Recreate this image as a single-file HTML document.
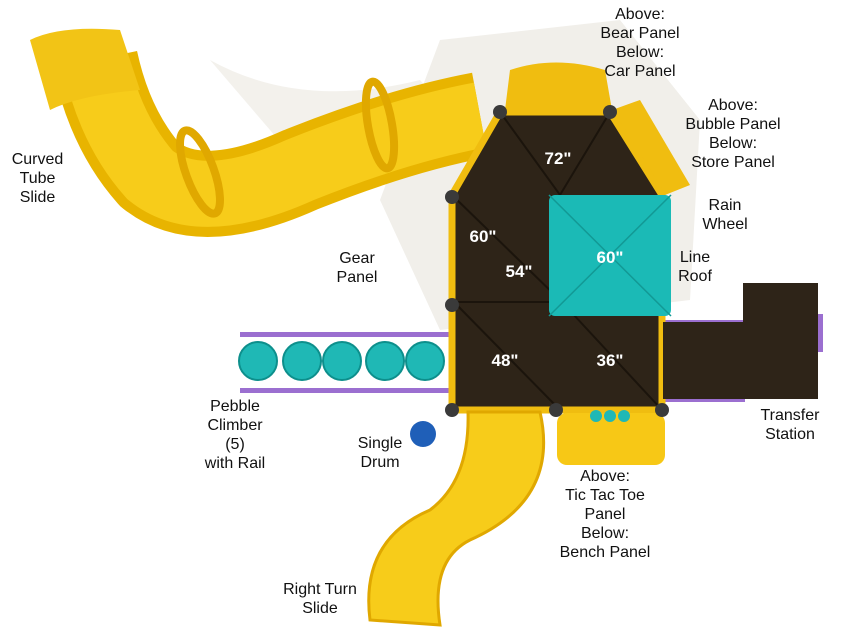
<!DOCTYPE html>
<html><head><style>
body{margin:0;background:#fff;}
.l{position:absolute;font-family:"Liberation Sans",sans-serif;font-size:16px;line-height:19px;color:#111;text-align:center;white-space:nowrap;}
</style></head><body>
<div style="position:relative;width:850px;height:638px;overflow:hidden;">
<svg width="850" height="638" style="position:absolute;left:0;top:0">
<!-- shadows -->
<path d="M440 40 L620 20 L700 120 L690 300 L440 330 L380 200 Z" fill="#f1efea"/>
<path d="M210 60 Q300 110 420 80 L480 150 L330 200 Z" fill="#f3f1ec"/>
<!-- curved tube slide -->
<path d="M95 60 Q110 130 150 175 Q200 215 300 170 Q400 130 480 115" fill="none" stroke="#e8b400" stroke-width="86" stroke-linecap="butt"/>
<path d="M95 60 Q110 130 150 175 Q200 215 300 170 Q400 130 480 115" fill="none" stroke="#f7cc1a" stroke-width="66"/>
<path d="M30 40 Q60 25 120 30 L140 90 Q80 95 50 110 Z" fill="#f2c416"/>
<ellipse cx="200" cy="172" rx="14" ry="44" fill="none" stroke="#e0a800" stroke-width="8" transform="rotate(-20 200 172)"/>
<ellipse cx="380" cy="125" rx="12" ry="44" fill="none" stroke="#e0a800" stroke-width="8" transform="rotate(-10 380 125)"/>
<!-- top cap -->
<path d="M505 110 L510 70 Q555 55 605 70 L612 110 Z" fill="#f0bd10"/>
<path d="M612 110 L640 100 L690 185 L665 195 Z" fill="#f0bd10"/>
<!-- rails -->
<rect x="240" y="332" width="212" height="5" fill="#9b6fd0"/>
<rect x="240" y="388" width="212" height="5" fill="#9b6fd0"/>
<rect x="660" y="320" width="85" height="5" fill="#9b6fd0"/>
<rect x="660" y="397" width="85" height="5" fill="#9b6fd0"/>
<rect x="818" y="314" width="5" height="38" fill="#9b6fd0"/>
<!-- pebbles -->
<g fill="#1fb8b5" stroke="#0d8f8c" stroke-width="2">
<circle cx="258" cy="361" r="19"/><circle cx="302" cy="361" r="19"/><circle cx="342" cy="361" r="19"/><circle cx="385" cy="361" r="19"/><circle cx="425" cy="361" r="19"/>
</g>
<!-- deck -->
<path d="M500 112 L610 112 L662 195 L662 410 L452 410 L452 195 Z" fill="#2e2418" stroke="#f0bd10" stroke-width="7"/>
<path d="M500 112 L560 195 L610 112 M452 195 L560 300 M452 300 L560 410 M560 300 L662 410" stroke="#1b140c" stroke-width="2" fill="none"/>
<line x1="452" y1="302" x2="662" y2="302" stroke="#1b140c" stroke-width="2"/>
<!-- transfer -->
<rect x="663" y="322" width="155" height="77" fill="#2e2418"/>
<rect x="743" y="283" width="75" height="116" fill="#2e2418"/>
<!-- roof -->
<rect x="549" y="195" width="122" height="121" rx="6" fill="#1bbab6"/>
<path d="M549 195 L671 316 M671 195 L549 316" stroke="#129995" stroke-width="1.5"/>
<!-- right turn slide -->
<path d="M468 412 L540 412 Q560 500 470 540 Q430 560 440 625 L370 620 Q360 540 430 510 Q470 480 468 412 Z" fill="#f7cc1a" stroke="#e0a800" stroke-width="3"/>
<!-- bench -->
<rect x="557" y="413" width="108" height="52" rx="10" fill="#f7c816"/>
<circle cx="596" cy="416" r="6" fill="#1fb8b5"/><circle cx="610" cy="416" r="6" fill="#1fb8b5"/><circle cx="624" cy="416" r="6" fill="#1fb8b5"/>
<!-- drum -->
<circle cx="423" cy="434" r="13" fill="#1f5fb8"/>
<!-- posts -->
<g fill="#3a3a3a"><circle cx="500" cy="112" r="7"/><circle cx="610" cy="112" r="7"/><circle cx="452" cy="197" r="7"/><circle cx="452" cy="305" r="7"/><circle cx="452" cy="410" r="7"/><circle cx="556" cy="410" r="7"/><circle cx="662" cy="410" r="7"/></g>
<g font-family="Liberation Sans,sans-serif" font-weight="bold" font-size="17" fill="#fff" text-anchor="middle">
<text x="558" y="164">72"</text><text x="483" y="242">60"</text><text x="519" y="277">54"</text>
<text x="610" y="263">60"</text><text x="505" y="366">48"</text><text x="610" y="366">36"</text>
</g>
</svg>
<div class="l" style="left:590px;top:5px;width:100px">Above:<br>Bear Panel<br>Below:<br>Car Panel</div>
<div class="l" style="left:678px;top:96px;width:110px">Above:<br>Bubble Panel<br>Below:<br>Store Panel</div>
<div class="l" style="left:690px;top:196px;width:70px">Rain<br>Wheel</div>
<div class="l" style="left:660px;top:248px;width:70px">Line<br>Roof</div>
<div class="l" style="left:0px;top:150px;width:75px">Curved<br>Tube<br>Slide</div>
<div class="l" style="left:322px;top:249px;width:70px">Gear<br>Panel</div>
<div class="l" style="left:190px;top:397px;width:90px">Pebble<br>Climber<br>(5)<br>with Rail</div>
<div class="l" style="left:345px;top:434px;width:70px">Single<br>Drum</div>
<div class="l" style="left:745px;top:406px;width:90px">Transfer<br>Station</div>
<div class="l" style="left:545px;top:467px;width:120px">Above:<br>Tic Tac Toe<br>Panel<br>Below:<br>Bench Panel</div>
<div class="l" style="left:270px;top:580px;width:100px">Right Turn<br>Slide</div>
</div>
</body></html>
